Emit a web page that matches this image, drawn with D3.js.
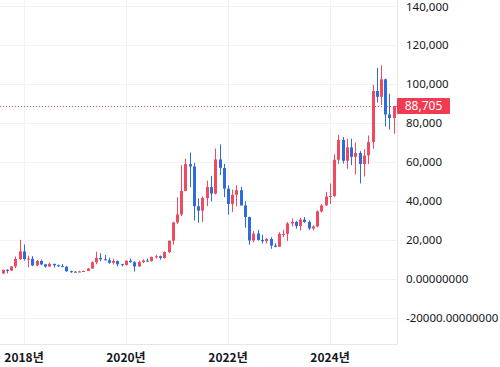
<!DOCTYPE html>
<html>
<head>
<meta charset="utf-8">
<script src="https://cdn.jsdelivr.net/npm/d3@7"></script>
<style>
  body { margin: 0; background: #fff; }
  svg { display: block; }
</style>
</head>
<body>
<script>
var width = 500;
var height = 367;

// monthly candles, Aug 2017 .. Apr 2025
var months = [
  "2017-08","2017-09","2017-10","2017-11","2017-12",
  "2018-01","2018-02","2018-03","2018-04","2018-05","2018-06","2018-07","2018-08","2018-09","2018-10","2018-11","2018-12",
  "2019-01","2019-02","2019-03","2019-04","2019-05","2019-06","2019-07","2019-08","2019-09","2019-10","2019-11","2019-12",
  "2020-01","2020-02","2020-03","2020-04","2020-05","2020-06","2020-07","2020-08","2020-09","2020-10","2020-11","2020-12",
  "2021-01","2021-02","2021-03","2021-04","2021-05","2021-06","2021-07","2021-08","2021-09","2021-10","2021-11","2021-12",
  "2022-01","2022-02","2022-03","2022-04","2022-05","2022-06","2022-07","2022-08","2022-09","2022-10","2022-11","2022-12",
  "2023-01","2023-02","2023-03","2023-04","2023-05","2023-06","2023-07","2023-08","2023-09","2023-10","2023-11","2023-12",
  "2024-01","2024-02","2024-03","2024-04","2024-05","2024-06","2024-07","2024-08","2024-09","2024-10","2024-11","2024-12",
  "2025-01","2025-02","2025-03","2025-04"
];
var open = [
  2871, 4701, 4341, 6440, 10198,
  14112, 10237, 10385, 7003, 9251, 7500, 6411, 7769, 7044, 6619, 6318, 4024,
  3746, 3460, 3853, 4105, 5350, 8574, 10818, 10077, 9630, 8299, 9193, 7571,
  7194, 9346, 8599, 6439, 8672, 9463, 9146, 11335, 11679, 10796, 13781, 19633,
  28994, 33115, 45159, 58926, 57714, 37293, 35046, 41460, 47099, 43816, 61320, 56907,
  46311, 38481, 43194, 45554, 37714, 31792, 19820, 23336, 20050, 19431, 20495, 17168,
  16548, 23137, 23150, 28473, 29268, 27219, 30472, 29230, 25934, 26967, 34656, 37718,
  42280, 42580, 61168, 71334, 60666, 67490, 62673, 64625, 58969, 63335, 70216, 96407,
  93425, 102405, 84373, 82548
];
var high = [
  4736, 4975, 6470, 11517, 20089,
  17712, 11958, 11710, 9745, 9964, 7754, 8424, 7770, 7388, 7680, 6553, 4309,
  4110, 4210, 4296, 5642, 9074, 13970, 13183, 12326, 10905, 10370, 9505, 7743,
  9579, 10500, 9190, 9470, 10067, 10380, 11433, 12468, 12067, 14100, 19749, 29300,
  41950, 58330, 61700, 64863, 59600, 41330, 42316, 50482, 52920, 66930, 69000, 59041,
  47990, 45821, 48086, 47313, 39902, 31957, 24572, 25211, 22673, 21023, 21446, 18387,
  23955, 25250, 29190, 31000, 29820, 31431, 31814, 30176, 27488, 35198, 38414, 44700,
  48969, 63913, 73750, 72797, 71979, 71997, 70079, 65593, 66498, 73620, 99588, 108268,
  109588, 102754, 95000, 88800
];
var low = [
  2580, 2951, 4107, 5519, 9723,
  9402, 6048, 6601, 6526, 7090, 5826, 6112, 5880, 6127, 6205, 3652, 3156,
  3400, 3400, 3733, 4096, 5332, 7564, 9111, 9467, 7830, 7446, 6515, 6435,
  6871, 8450, 3850, 6203, 8117, 8833, 8977, 10518, 9875, 10416, 13219, 17600,
  28130, 32297, 45000, 47000, 30000, 28800, 29278, 37332, 39787, 43320, 53256, 42000,
  32933, 34322, 37260, 37697, 26350, 17567, 18782, 19600, 18153, 18195, 15476, 16256,
  16500, 21405, 19549, 26942, 25811, 24795, 28861, 25166, 24901, 26558, 34097, 37617,
  38555, 41884, 59005, 59191, 56552, 58402, 53550, 49000, 52550, 58946, 66835, 90500,
  89256, 78258, 76606, 74500
];
var close = [
  4703, 4338, 6468, 10233, 14156,
  10221, 10397, 6973, 9240, 7494, 6404, 7780, 7037, 6625, 6318, 4017, 3742,
  3457, 3854, 4105, 5350, 8574, 10817, 10085, 9630, 8294, 9199, 7569, 7193,
  9351, 8600, 6438, 8659, 9461, 9137, 11335, 11655, 10779, 13805, 19625, 29002,
  33114, 45137, 58918, 57750, 37332, 35040, 41626, 47166, 43790, 61318, 57005, 46306,
  38483, 43193, 45538, 37714, 31792, 19784, 23336, 20050, 19432, 20495, 17168, 16548,
  23139, 23147, 28478, 29268, 27219, 30477, 29232, 25931, 26967, 34667, 37712, 42283,
  42580, 61130, 71333, 60672, 67530, 62678, 64619, 58969, 63328, 70215, 96405, 93429,
  102405, 84373, 82548, 88705
];

var yTicks = [140000, 120000, 100000, 80000, 60000, 40000, 20000, 0, -20000];
var xTicks = ["2018-01", "2020-01", "2022-01", "2024-01"];
var lastPrice = 88705;

var upColor = "#ef4a60";
var downColor = "#2f6be0";

var parseMonth = d3.utcParse("%Y-%m");

var candles = months.map((m, i) => ({
  date: parseMonth(m),
  open: open[i], high: high[i], low: low[i], close: close[i]
}));

var plotRight = 397;
var plotBottom = 344;

var x = d3.scaleUtc()
  .domain([parseMonth("2018-01"), parseMonth("2024-01")])
  .range([24, 330]);

var y = d3.scaleLinear()
  .domain([0, 140000])
  .range([279, 6]);

var svg = d3.select("body")
  .append("svg")
  .attr("width", width)
  .attr("height", height);

// grid
svg.append("g")
  .selectAll("line")
  .data(yTicks)
  .enter().append("line")
  .attr("x1", 0).attr("x2", plotRight)
  .attr("y1", (d) => Math.round(y(d)) + 0.5)
  .attr("y2", (d) => Math.round(y(d)) + 0.5)
  .attr("stroke", "#f0f2f6");

svg.append("g")
  .selectAll("line")
  .data(xTicks)
  .enter().append("line")
  .attr("x1", (d) => Math.round(x(parseMonth(d))) + 0.5)
  .attr("x2", (d) => Math.round(x(parseMonth(d))) + 0.5)
  .attr("y1", 0).attr("y2", plotBottom)
  .attr("stroke", "#f0f2f6");

// frame
svg.append("line")
  .attr("x1", 0).attr("x2", plotRight + 0.5)
  .attr("y1", plotBottom + 0.5).attr("y2", plotBottom + 0.5)
  .attr("stroke", "#e4e6eb");
svg.append("line")
  .attr("x1", plotRight + 0.5).attr("x2", plotRight + 0.5)
  .attr("y1", 0).attr("y2", plotBottom + 0.5)
  .attr("stroke", "#e4e6eb");

// last price line
svg.append("line")
  .attr("x1", 0).attr("x2", plotRight)
  .attr("y1", Math.round(y(lastPrice)) + 0.5)
  .attr("y2", Math.round(y(lastPrice)) + 0.5)
  .attr("stroke", upColor)
  .attr("stroke-dasharray", "1,2");

// candles
var bars = svg.append("g")
  .selectAll("g")
  .data(candles)
  .enter().append("g")
  .attr("fill", (d) => d.close >= d.open ? upColor : downColor)
  .attr("stroke", (d) => d.close >= d.open ? upColor : downColor);

bars.append("line")
  .attr("x1", (d) => Math.round(x(d.date)) + 0.5)
  .attr("x2", (d) => Math.round(x(d.date)) + 0.5)
  .attr("y1", (d) => y(d.high))
  .attr("y2", (d) => y(d.low))
  .attr("stroke-width", 1);

bars.append("rect")
  .attr("x", (d) => Math.round(x(d.date)) - 1)
  .attr("width", 3)
  .attr("y", (d) => y(Math.max(d.open, d.close)))
  .attr("height", (d) => Math.max(1, Math.abs(y(d.open) - y(d.close))))
  .attr("stroke", "none");

// y axis labels
svg.append("g")
  .selectAll("text")
  .data(yTicks)
  .enter().append("text")
  .attr("x", 406)
  .attr("y", (d) => Math.max(y(d), 7))
  .attr("dy", "0.35em")
  .attr("font-family", "'Noto Sans', sans-serif")
  .attr("font-size", 11.5)
  .attr("fill", "#131722")
  .text((d) => d > 0 ? d3.format(",")(d) : d3.format(".8f")(d).replace("−", "-"));

// last price tag
svg.append("rect")
  .attr("x", 397)
  .attr("y", y(lastPrice) - 8)
  .attr("width", 53)
  .attr("height", 16)
  .attr("rx", 1)
  .attr("fill", "#f23b52");

svg.append("text")
  .attr("x", 423.5)
  .attr("y", y(lastPrice))
  .attr("dy", "0.35em")
  .attr("text-anchor", "middle")
  .attr("font-family", "'Noto Sans', sans-serif")
  .attr("font-size", 12)
  .attr("fill", "#fff")
  .text(d3.format(",")(lastPrice));

// x axis labels
svg.append("g")
  .selectAll("text")
  .data(xTicks)
  .enter().append("text")
  .attr("x", (d) => x(parseMonth(d)))
  .attr("y", 362)
  .attr("text-anchor", "middle")
  .attr("font-family", "'Noto Sans CJK KR', sans-serif")
  .attr("font-size", 12)
  .attr("font-weight", 600)
  .attr("fill", "#131722")
  .text((d) => d.slice(0, 4) + "년");
</script>
</body>
</html>
